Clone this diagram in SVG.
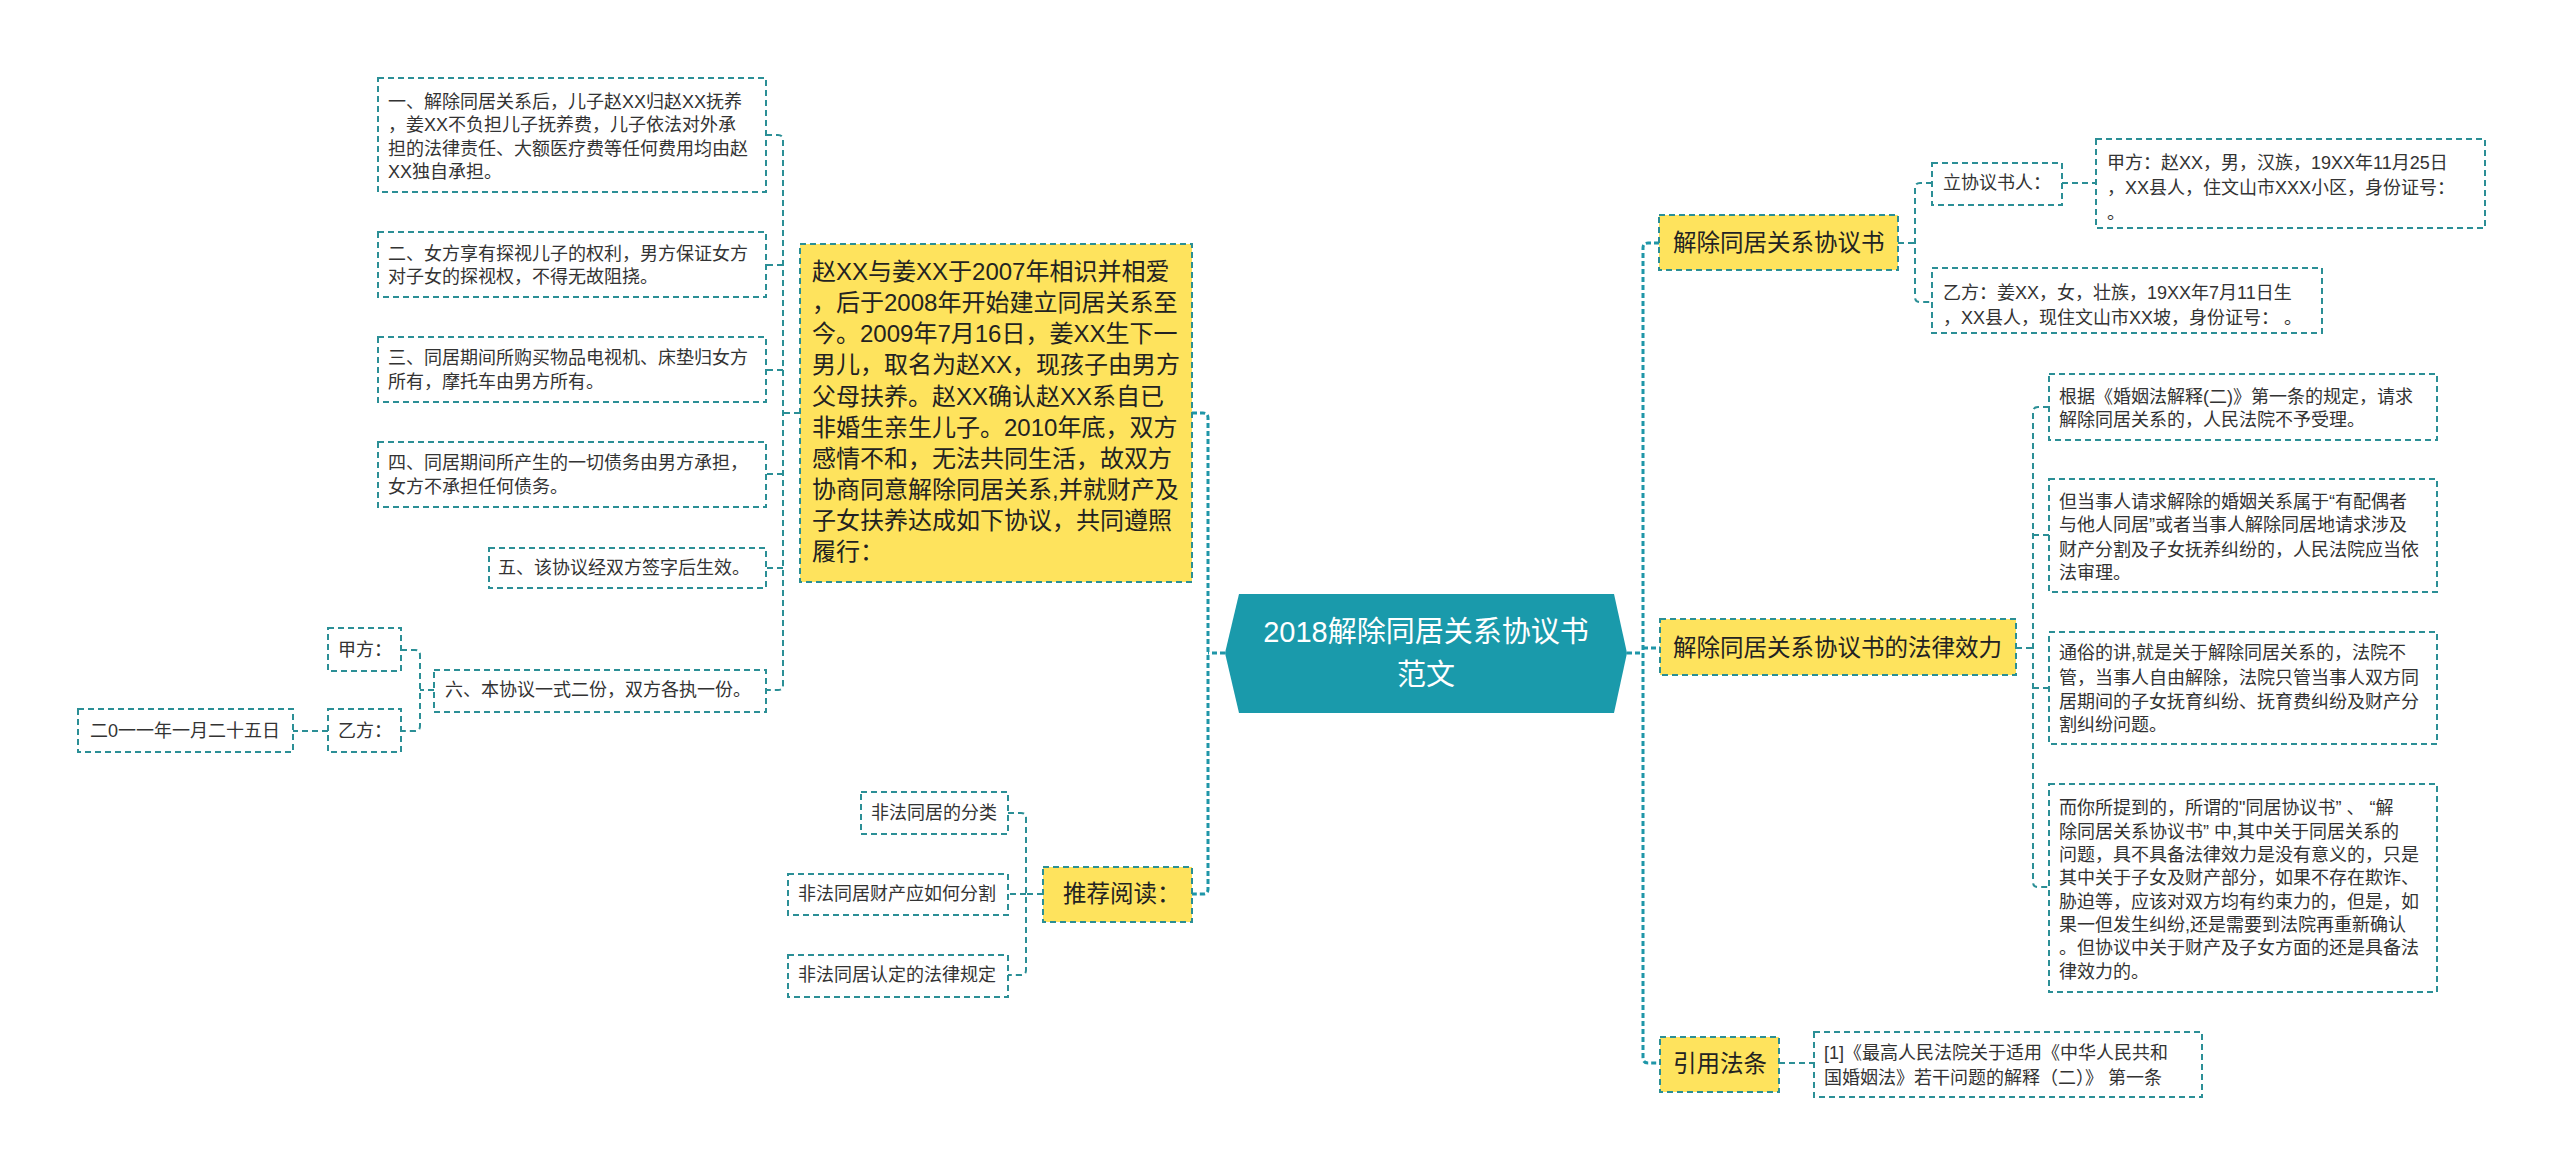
<svg xmlns="http://www.w3.org/2000/svg" width="2560" height="1176" viewBox="0 0 2560 1176">
<style>
text{font-family:"Liberation Sans","Noto Sans CJK SC",sans-serif;fill:#333;}
.s{font-size:18px;}
.m{font-size:23.5px;fill:#222;}
.big{font-size:24px;fill:#222;}
.root{font-size:29px;fill:#fff;text-anchor:middle;}
.box{fill:#fff;stroke:#2b8f96;stroke-width:2;stroke-dasharray:6 4;}
.ybox{fill:#fee35d;stroke:#2b8f96;stroke-width:2;stroke-dasharray:6 4;}
.c{fill:none;stroke:#2b8f96;stroke-width:2;stroke-dasharray:6 4;}
.cr{fill:none;stroke:#1f96a8;stroke-width:3;stroke-dasharray:5 3;}
</style>
<rect width="2560" height="1176" fill="#fff"/>
<g id="connectors">
<path class="cr" d="M1225,653 H1208"/>
<path class="cr" d="M1192,413 H1203 Q1208,413 1208,418 V889 Q1208,894 1203,894 H1192"/>
<path class="c" d="M800,413 H783"/>
<path class="c" d="M766,135 H778 Q783,135 783,140 V685 Q783,690 778,690 H766"/>
<path class="c" d="M783,265 H766 M783,370 H766 M783,474 H766 M783,568 H766"/>
<path class="c" d="M434,690 H420"/>
<path class="c" d="M401,650 H415 Q420,650 420,655 V726 Q420,731 415,731 H401"/>
<path class="c" d="M328,731 H293"/>
<path class="c" d="M1043,894 H1026"/>
<path class="c" d="M1008,813 H1021 Q1026,813 1026,818 V970 Q1026,975 1021,975 H1008"/>
<path class="c" d="M1026,894 H1008"/>
<path class="cr" d="M1627,653 H1643"/>
<path class="cr" d="M1659,243 H1648 Q1643,243 1643,248 V1058 Q1643,1063 1648,1063 H1660"/>
<path class="cr" d="M1643,648 H1660"/>
<path class="c" d="M1898,243 H1915"/>
<path class="c" d="M1932,183 H1920 Q1915,183 1915,188 V297 Q1915,302 1920,302 H1932"/>
<path class="c" d="M2062,183 H2096"/>
<path class="c" d="M2016,648 H2033"/>
<path class="c" d="M2049,407 H2038 Q2033,407 2033,412 V882 Q2033,887 2038,887 H2049"/>
<path class="c" d="M2033,535 H2049 M2033,688 H2049"/>
<path class="c" d="M1779,1063 H1814"/>
</g>
<g id="root">
<polygon points="1239,594 1614,594 1627,653 1614,713 1239,713 1225,653" fill="#1a9aab"/>
<text class="root" x="1426" y="642">2018解除同居关系协议书</text>
<text class="root" x="1426" y="685">范文</text>
</g>
<g id="intro">
<rect class="ybox" x="800" y="244" width="392" height="338"/>
<text class="big" x="812" y="280">赵XX与姜XX于2007年相识并相爱</text>
<text class="big" x="812" y="311">，后于2008年开始建立同居关系至</text>
<text class="big" x="812" y="342">今。2009年7月16日，姜XX生下一</text>
<text class="big" x="812" y="373">男儿，取名为赵XX，现孩子由男方</text>
<text class="big" x="812" y="405">父母扶养。赵XX确认赵XX系自已</text>
<text class="big" x="812" y="436">非婚生亲生儿子。2010年底，双方</text>
<text class="big" x="812" y="467">感情不和，无法共同生活，故双方</text>
<text class="big" x="812" y="498">协商同意解除同居关系,并就财产及</text>
<text class="big" x="812" y="529">子女扶养达成如下协议，共同遵照</text>
<text class="big" x="812" y="560">履行：</text>
</g>
<g id="item1">
<rect class="box" x="378" y="78" width="388" height="114"/>
<text class="s" x="388" y="108">一、解除同居关系后，儿子赵XX归赵XX抚养</text>
<text class="s" x="388" y="131">，姜XX不负担儿子抚养费，儿子依法对外承</text>
<text class="s" x="388" y="155">担的法律责任、大额医疗费等任何费用均由赵</text>
<text class="s" x="388" y="178">XX独自承担。</text>
</g>
<g id="item2">
<rect class="box" x="378" y="232" width="388" height="65"/>
<text class="s" x="388" y="260">二、女方享有探视儿子的权利，男方保证女方</text>
<text class="s" x="388" y="283">对子女的探视权，不得无故阻挠。</text>
</g>
<g id="item3">
<rect class="box" x="378" y="337" width="388" height="65"/>
<text class="s" x="388" y="364">三、同居期间所购买物品电视机、床垫归女方</text>
<text class="s" x="388" y="388">所有，摩托车由男方所有。</text>
</g>
<g id="item4">
<rect class="box" x="378" y="442" width="388" height="65"/>
<text class="s" x="388" y="469">四、同居期间所产生的一切债务由男方承担，</text>
<text class="s" x="388" y="493">女方不承担任何债务。</text>
</g>
<g id="item5">
<rect class="box" x="489" y="548" width="277" height="40"/>
<text class="s" x="498" y="574">五、该协议经双方签字后生效。</text>
</g>
<g id="item6">
<rect class="box" x="434" y="670" width="332" height="42"/>
<text class="s" x="445" y="696">六、本协议一式二份，双方各执一份。</text>
</g>
<g id="partyA">
<rect class="box" x="328" y="628" width="73" height="43"/>
<text class="s" x="338" y="656">甲方：</text>
</g>
<g id="partyB">
<rect class="box" x="328" y="709" width="73" height="43"/>
<text class="s" x="338" y="737">乙方：</text>
</g>
<g id="date">
<rect class="box" x="78" y="709" width="215" height="43"/>
<text class="s" x="90" y="737">二0一一年一月二十五日</text>
</g>
<g id="reading">
<rect class="ybox" x="1043" y="867" width="149" height="55"/>
<text class="m" x="1063" y="902">推荐阅读：</text>
</g>
<g id="read1">
<rect class="box" x="861" y="792" width="147" height="42"/>
<text class="s" x="871" y="819">非法同居的分类</text>
</g>
<g id="read2">
<rect class="box" x="788" y="874" width="220" height="41"/>
<text class="s" x="798" y="900">非法同居财产应如何分割</text>
</g>
<g id="read3">
<rect class="box" x="788" y="955" width="220" height="42"/>
<text class="s" x="798" y="981">非法同居认定的法律规定</text>
</g>
<g id="agreement">
<rect class="ybox" x="1659" y="215" width="239" height="55"/>
<text class="m" x="1673" y="251">解除同居关系协议书</text>
</g>
<g id="signers">
<rect class="box" x="1932" y="163" width="130" height="42"/>
<text class="s" x="1943" y="189">立协议书人：</text>
</g>
<g id="partyA-info">
<rect class="box" x="2096" y="139" width="389" height="89"/>
<text class="s" x="2107" y="169">甲方：赵XX，男，汉族，19XX年11月25日</text>
<text class="s" x="2107" y="194">，XX县人，住文山市XXX小区，身份证号：</text>
<text class="s" x="2107" y="219">。</text>
</g>
<g id="partyB-info">
<rect class="box" x="1932" y="268" width="390" height="65"/>
<text class="s" x="1943" y="299">乙方：姜XX，女，壮族，19XX年7月11日生</text>
<text class="s" x="1943" y="324" xml:space="preserve">，XX县人，现住文山市XX坡，身份证号： 。</text>
</g>
<g id="effect">
<rect class="ybox" x="1660" y="619" width="356" height="56"/>
<text class="m" x="1673" y="656">解除同居关系协议书的法律效力</text>
</g>
<g id="effect1">
<rect class="box" x="2049" y="374" width="388" height="66"/>
<text class="s" x="2059" y="403">根据《婚姻法解释(二)》第一条的规定，请求</text>
<text class="s" x="2059" y="426">解除同居关系的，人民法院不予受理。</text>
</g>
<g id="effect2">
<rect class="box" x="2049" y="479" width="388" height="113"/>
<text class="s" x="2059" y="508">但当事人请求解除的婚姻关系属于“有配偶者</text>
<text class="s" x="2059" y="531">与他人同居”或者当事人解除同居地请求涉及</text>
<text class="s" x="2059" y="556">财产分割及子女抚养纠纷的，人民法院应当依</text>
<text class="s" x="2059" y="579">法审理。</text>
</g>
<g id="effect3">
<rect class="box" x="2049" y="632" width="388" height="112"/>
<text class="s" x="2059" y="659">通俗的讲,就是关于解除同居关系的，法院不</text>
<text class="s" x="2059" y="684">管，当事人自由解除，法院只管当事人双方同</text>
<text class="s" x="2059" y="708">居期间的子女抚育纠纷、抚育费纠纷及财产分</text>
<text class="s" x="2059" y="731">割纠纷问题。</text>
</g>
<g id="effect4">
<rect class="box" x="2049" y="784" width="388" height="208"/>
<text class="s" x="2059" y="814">而你所提到的，所谓的"同居协议书” 、 “解</text>
<text class="s" x="2059" y="838">除同居关系协议书” 中,其中关于同居关系的</text>
<text class="s" x="2059" y="861">问题，具不具备法律效力是没有意义的，只是</text>
<text class="s" x="2059" y="884">其中关于子女及财产部分，如果不存在欺诈、</text>
<text class="s" x="2059" y="908">胁迫等，应该对双方均有约束力的，但是，如</text>
<text class="s" x="2059" y="931">果一但发生纠纷,还是需要到法院再重新确认</text>
<text class="s" x="2059" y="954">。但协议中关于财产及子女方面的还是具备法</text>
<text class="s" x="2059" y="978">律效力的。</text>
</g>
<g id="citation">
<rect class="ybox" x="1660" y="1037" width="119" height="55"/>
<text class="m" x="1673" y="1072">引用法条</text>
</g>
<g id="citation1">
<rect class="box" x="1814" y="1032" width="388" height="65"/>
<text class="s" x="1824" y="1059">[1]《最高人民法院关于适用《中华人民共和</text>
<text class="s" x="1824" y="1084">国婚姻法》若干问题的解释（二）》 第一条</text>
</g>
</svg>
